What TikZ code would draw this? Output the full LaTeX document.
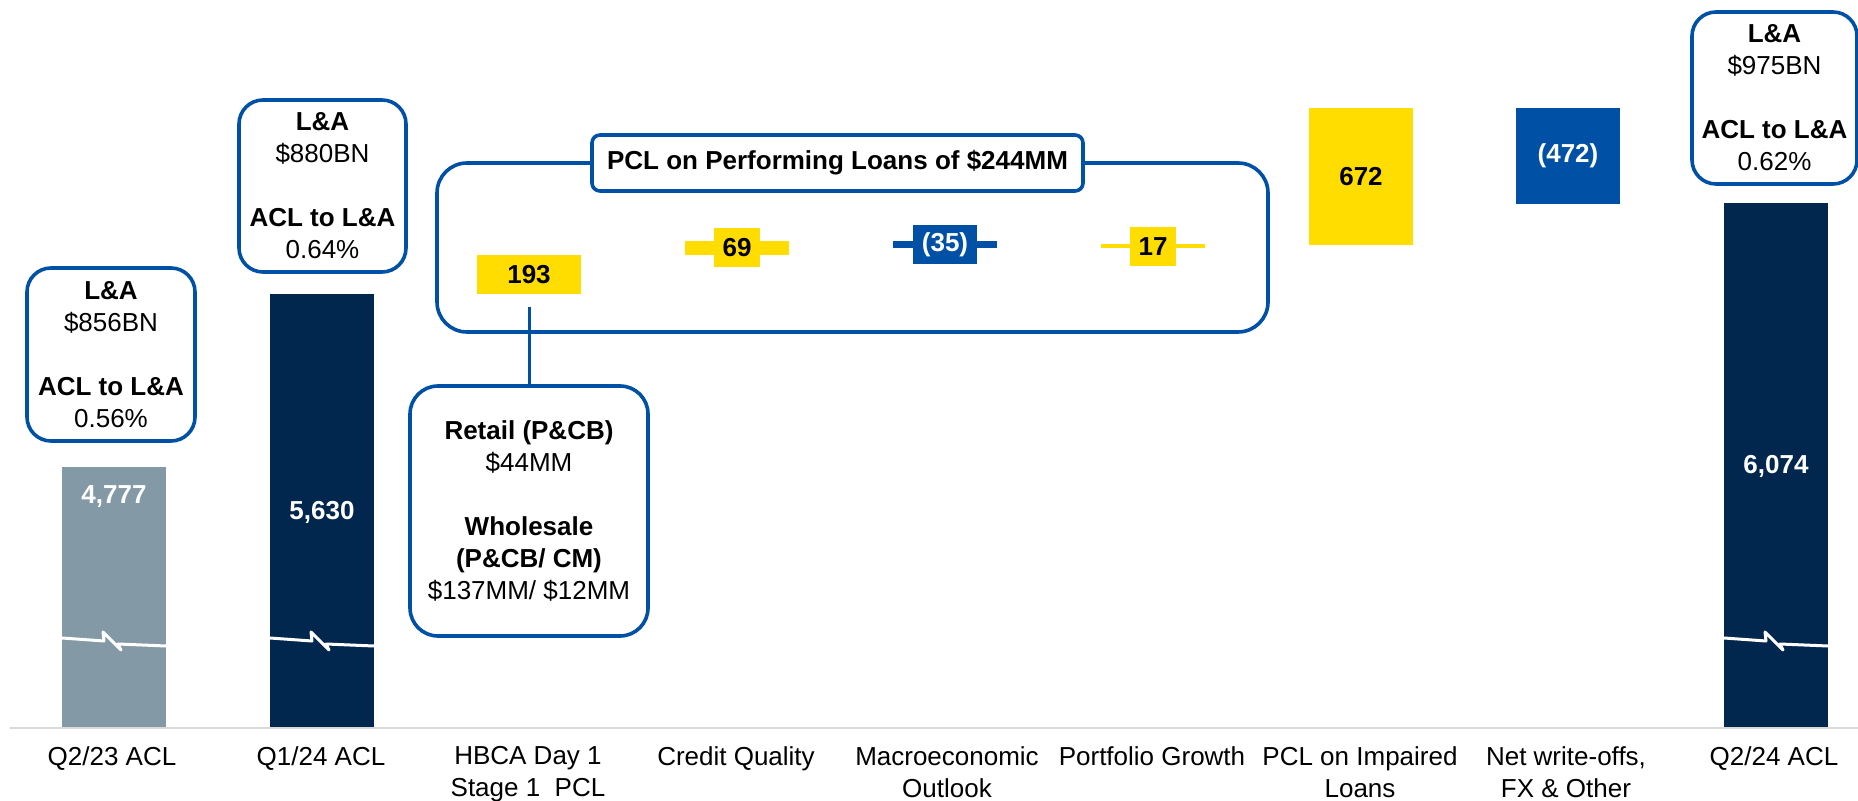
\documentclass[tikz,border=0pt]{standalone}
\usepackage{fontspec}
\setmainfont{Liberation Sans}
\definecolor{navy}{RGB}{2,39,79}
\definecolor{slate}{RGB}{132,153,166}
\definecolor{gold}{RGB}{255,221,0}
\definecolor{royal}{RGB}{0,81,165}
\definecolor{axisgray}{RGB}{217,217,217}
\tikzset{
  basefont/.style={font=\fontsize{13}{16}\selectfont},
  infobox/.style={draw=royal, line width=1.8pt, rounded corners=12pt, fill=white,
    align=center, inner sep=0pt, basefont},
  barlabel/.style={inner sep=0pt, font=\bfseries\fontsize{13}{16}\selectfont},
  chip/.style={inner sep=0pt, minimum height=19.5pt, font=\bfseries\fontsize{13}{16}\selectfont},
  brk/.style={draw=white, line width=1.5pt, line join=round},
  conn/.style={draw=royal, line width=1.5pt},
  catlabel/.style={basefont, align=center, inner sep=0pt, anchor=north},
}
\begin{document}
\begin{tikzpicture}[x=0.5pt,y=-0.5pt]
\useasboundingbox (0,0) rectangle (1858,801);

% opening and closing balances
\fill[slate] (62,467) rectangle (166,728);
\fill[navy] (270,294) rectangle (374,728);
\fill[navy] (1724,203) rectangle (1828,728);
\foreach \x in {62,270,1724}
  \draw[brk] (\x,638) -- ++(42,3) -- ++(-1,-9) -- ++(18,18) -- ++(-3,-6) -- ++(48,2);
\node[barlabel, text=white] (n4777) at (114,497) {4,777};
\node[barlabel, text=white] (n5630) at (322,512) {5,630};
\node[barlabel, text=white] (n6074) at (1776,466) {6,074};

% axis
\draw[axisgray, line width=1pt] (10,728) -- (1858,728);

% L&A info boxes
\node[infobox, minimum width=84pt, minimum height=86.5pt] (boxA) at (111,354.5)
  {\textbf{L\&A}\\\$856BN\\[16pt]\textbf{ACL to L\&A}\\0.56\%};
\node[infobox, minimum width=83.5pt, minimum height=86pt] (boxB) at (322.5,186)
  {\textbf{L\&A}\\\$880BN\\[16pt]\textbf{ACL to L\&A}\\0.64\%};
\node[infobox, minimum width=82.5pt, minimum height=86pt] (boxC) at (1774.5,98)
  {\textbf{L\&A}\\\$975BN\\[16pt]\textbf{ACL to L\&A}\\0.62\%};

% performing loans group
\node[draw=royal, line width=1.8pt, rounded corners=15pt, minimum width=415.5pt,
  minimum height=84.5pt, inner sep=0pt] (group) at (852.5,247.5) {};
\node[draw=royal, line width=1.8pt, rounded corners=4pt, fill=white, minimum width=245.5pt,
  minimum height=28pt, inner sep=0pt, font=\bfseries\fontsize{13}{16}\selectfont]
  (title) at (837.5,163) {PCL on Performing Loans of \$244MM};

% waterfall steps
\node[chip, fill=gold, minimum width=52pt] (v193) at (529,274.5) {193};
\fill[gold] (685,241) rectangle (789,255);
\node[chip, fill=gold, minimum width=23pt] (v69) at (737,247.5) {69};
\fill[royal] (893,241) rectangle (997,248);
\node[chip, fill=royal, text=white, minimum width=32pt] (v35) at (945,244.5) {(35)};
\fill[gold] (1101,244) rectangle (1205,248);
\node[chip, fill=gold, minimum width=23pt] (v17) at (1153,246.5) {17};
\node[chip, fill=gold, minimum width=52pt, minimum height=68.5pt] (v672) at (1361,176.5) {672};
\node[chip, fill=royal, text=white, minimum width=52pt, minimum height=48pt] (v472) at (1568,156) {(472)};

% breakdown of the day-1 provision
\node[infobox, rounded corners=14pt, minimum width=119pt, minimum height=125pt] (retail) at (529,511)
  {\textbf{Retail (P\&CB)}\\\$44MM\\[16pt]\textbf{Wholesale}\\\textbf{(P\&CB/ CM)}\\\$137MM/ \$12MM};
\draw[conn, shorten <=6.5pt] (v193.south) -- (retail.north);

% category labels
\node[catlabel] (c1) at (112,746) {Q2/23 ACL};
\node[catlabel] (c2) at (321,746) {Q1/24 ACL};
\node[catlabel] (c3) at (528,746) {HBCA Day 1\\Stage 1\ \ PCL};
\node[catlabel] (c4) at (736,746) {Credit Quality};
\node[catlabel] (c5) at (947,746) {Macroeconomic\\Outlook};
\node[catlabel] (c6) at (1152,746) {Portfolio Growth};
\node[catlabel] (c7) at (1360,746) {PCL on Impaired\\Loans};
\node[catlabel] (c8) at (1566,746) {Net write-offs,\\FX \& Other};
\node[catlabel] (c9) at (1774,746) {Q2/24 ACL};
\end{tikzpicture}
\end{document}
